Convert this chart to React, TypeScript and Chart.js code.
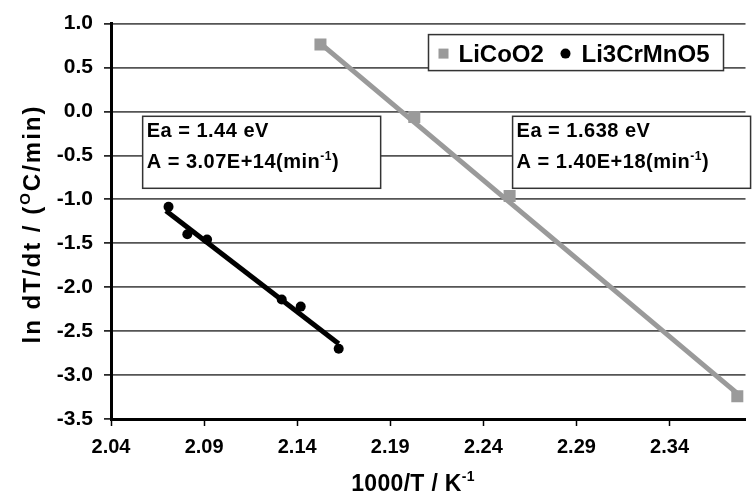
import React, { useEffect, useRef } from 'react';
import { Chart, registerables } from 'chart.js';

Chart.register(...registerables);

const FONT = "'Liberation Sans', Arial, Helvetica, sans-serif";

// ---- data ----
const licoo2X = [2.1525, 2.2029, 2.2541, 2.3764];
const licoo2Y = [0.761, -0.063, -0.961, -3.242];
const li3X = [2.0709, 2.081, 2.0916, 2.1317, 2.1419, 2.1623];
const li3Y = [-1.084, -1.398, -1.458, -2.139, -2.221, -2.7];
const licoo2FitX = [2.151, 2.377];
const licoo2FitY = [0.8, -3.22];
const li3FitX = [2.0695, 2.1623];
const li3FitY = [-1.129, -2.644];

const xTickValues = [2.04, 2.09, 2.14, 2.19, 2.24, 2.29, 2.34];
const xTickLabels = ['2.04', '2.09', '2.14', '2.19', '2.24', '2.29', '2.34'];
const yTickValues = [-3.5, -3.0, -2.5, -2.0, -1.5, -1.0, -0.5, 0.0, 0.5, 1.0];
const yTickLabels = ['-3.5', '-3.0', '-2.5', '-2.0', '-1.5', '-1.0', '-0.5', '0.0', '0.5', '1.0'];

const seriesNames = ['LiCoO2', 'Li3CrMnO5'];

type Seg = { t: string; sup?: boolean };

const annotations: { x: number; y: number; lines: Seg[][] }[] = [
  {
    x: 2.057,
    y: -0.055,
    lines: [[{ t: 'Ea = 1.44 eV' }], [{ t: 'A = 3.07E+14(min' }, { t: '-1', sup: true }, { t: ')' }]],
  },
  {
    x: 2.2557,
    y: -0.055,
    lines: [[{ t: 'Ea = 1.638 eV' }], [{ t: 'A = 1.40E+18(min' }, { t: '-1', sup: true }, { t: ')' }]],
  },
];

function drawRich(
  ctx: CanvasRenderingContext2D,
  segs: Seg[],
  x: number,
  y: number,
  size: number,
  align: 'left' | 'center',
  spacing: number
) {
  ctx.save();
  (ctx as any).letterSpacing = spacing + 'px';
  const supSize = Math.round(size * 0.62);
  const widths = segs.map((s) => {
    ctx.font = `bold ${s.sup ? supSize : size}px ${FONT}`;
    return ctx.measureText(s.t).width;
  });
  const total = widths.reduce((a, b) => a + b, 0);
  let cx = align === 'center' ? x - total / 2 : x;
  ctx.textAlign = 'left';
  ctx.textBaseline = 'alphabetic';
  ctx.fillStyle = '#000';
  segs.forEach((s, i) => {
    ctx.font = `bold ${s.sup ? supSize : size}px ${FONT}`;
    ctx.fillText(s.t, cx, s.sup ? y - size * 0.42 : y);
    cx += widths[i];
  });
  ctx.restore();
}

const overlayPlugin = {
  id: 'overlay',
  afterDraw(chart: any) {
    const ctx: CanvasRenderingContext2D = chart.ctx;
    const xs = chart.scales.x;
    const ys = chart.scales.y;
    const area = chart.chartArea;

    // annotation boxes
    annotations.forEach((a) => {
      const left = xs.getPixelForValue(a.x);
      const top = ys.getPixelForValue(a.y);
      ctx.save();
      ctx.fillStyle = '#fff';
      ctx.strokeStyle = '#333';
      ctx.lineWidth = 1.5;
      ctx.fillRect(left, top, 238, 72);
      ctx.strokeRect(left, top, 238, 72);
      ctx.restore();
      a.lines.forEach((ln, i) => {
        drawRich(ctx, ln, left + 4, top + 21 + i * 31, 20, 'left', 0.5);
      });
    });

    // legend
    const lx = area.right - 317;
    const ly = area.top + 11;
    const lw = 295;
    const lh = 36;
    ctx.save();
    ctx.fillStyle = '#fff';
    ctx.strokeStyle = '#333';
    ctx.lineWidth = 1.5;
    ctx.fillRect(lx, ly, lw, lh);
    ctx.strokeRect(lx, ly, lw, lh);
    const cy = ly + lh / 2 + 1;
    const ds0 = chart.data.datasets[0];
    const ds1 = chart.data.datasets[1];
    ctx.fillStyle = ds0.backgroundColor;
    ctx.fillRect(lx + 10, cy - 5, 10, 10);
    ctx.fillStyle = ds1.backgroundColor;
    ctx.beginPath();
    ctx.arc(lx + 137, cy, 5, 0, Math.PI * 2);
    ctx.fill();
    ctx.restore();
    drawRich(ctx, [{ t: ds0.label }], lx + 30, ly + 27, 24, 'left', 0);
    drawRich(ctx, [{ t: ds1.label }], lx + 153, ly + 27, 24, 'left', 0);

    // x title
    drawRich(ctx, [{ t: '1000/T / K' }, { t: '-1', sup: true }], 413, 491, 23, 'center', 0.3);

    // y title
    ctx.save();
    ctx.translate(40, 224);
    ctx.rotate(-Math.PI / 2);
    drawRich(
      ctx,
      [{ t: 'ln dT/dt / (' }, { t: 'O', sup: true }, { t: 'C/min)' }],
      0,
      0,
      24,
      'center',
      2
    );
    ctx.restore();
  },
};

export default function App() {
  const ref = useRef<HTMLCanvasElement>(null);

  useEffect(() => {
    document.body.style.margin = '0';
    const canvas = ref.current;
    if (!canvas) return;
    const toPts = (xsArr: number[], ysArr: number[]) => xsArr.map((x, i) => ({ x, y: ysArr[i] }));

    const chart = new Chart(canvas, {
      type: 'scatter',
      data: {
        datasets: [
          {
            label: seriesNames[0],
            data: toPts(licoo2X, licoo2Y),
            pointStyle: 'rect',
            pointRadius: 8.5,
            backgroundColor: '#9a9a9a',
            borderColor: '#9a9a9a',
            borderWidth: 0,
            showLine: false,
          },
          {
            label: seriesNames[1],
            data: toPts(li3X, li3Y),
            pointStyle: 'circle',
            pointRadius: 5,
            backgroundColor: '#000',
            borderColor: '#000',
            borderWidth: 0,
            showLine: false,
          },
          {
            label: 'fit1',
            data: toPts(licoo2FitX, licoo2FitY),
            showLine: true,
            borderColor: '#9a9a9a',
            borderWidth: 5,
            pointRadius: 0,
          },
          {
            label: 'fit2',
            data: toPts(li3FitX, li3FitY),
            showLine: true,
            borderColor: '#000',
            borderWidth: 5,
            pointRadius: 0,
          },
        ],
      },
      options: {
        animation: false,
        responsive: false,
        layout: { padding: { top: 17, right: 0, bottom: 0, left: 0 } },
        plugins: { legend: { display: false }, tooltip: { enabled: false }, title: { display: false } },
        scales: {
          x: {
            type: 'linear',
            min: 2.04,
            max: 2.3808,
            afterBuildTicks: (s: any) => {
              s.ticks = xTickValues.map((v) => ({ value: v }));
            },
            afterFit: (s: any) => {
              s.height = 77;
            },
            ticks: {
              callback: (_v: any, i: number) => xTickLabels[i],
              font: { family: FONT, size: 20, weight: 'bold' },
              color: '#000',
              padding: 9,
              maxRotation: 0,
              autoSkip: false,
            },
            grid: { drawOnChartArea: false, drawTicks: true, tickLength: 7, tickColor: '#000', tickWidth: 1.5 },
            border: { display: true, color: '#000', width: 3 },
          },
          y: {
            type: 'linear',
            min: -3.5,
            max: 1.0,
            afterBuildTicks: (s: any) => {
              s.ticks = yTickValues.map((v) => ({ value: v }));
            },
            afterFit: (s: any) => {
              s.width = 111;
            },
            ticks: {
              callback: (_v: any, i: number) => yTickLabels[i],
              font: { family: FONT, size: 21, weight: 'bold' },
              color: '#000',
              padding: 11,
              autoSkip: false,
            },
            grid: { color: '#555', lineWidth: 1.8, drawTicks: true, tickLength: 7, tickColor: '#000', tickWidth: 1.5 },
            border: { display: true, color: '#000', width: 3 },
          },
        },
      },
      plugins: [overlayPlugin],
    } as any);

    return () => chart.destroy();
  }, []);

  return (
    <div style={{ position: 'absolute', left: 0, top: 0, width: 754, height: 496, background: '#fff' }}>
      <canvas ref={ref} width={754} height={496} />
    </div>
  );
}
